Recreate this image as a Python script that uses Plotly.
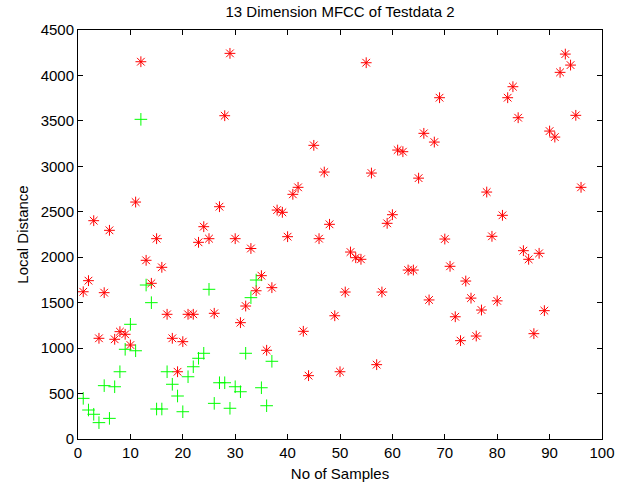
import plotly.graph_objects as go

# Red series: local distance per sample (asterisk markers)
red_x = list(range(1, 97))
red_y = [
    1620, 1742, 2402, 1108, 1610, 2296, 1097, 1181, 1152, 1034,
    2607, 4151, 1966, 1713, 2204, 1889, 1372, 1108, 740, 1071,
    1372, 1372, 2164, 2336, 2204, 1383, 2556, 3557, 4243, 2204,
    1280, 1463, 2096, 1631, 1797, 976, 1665, 2519, 2494, 2226,
    2692, 2769, 1185, 697, 3231, 2204, 2937, 2362, 1356, 740,
    1617, 2057, 1995, 1977, 4140, 2926, 818, 1617, 2373, 2468,
    3179, 3161, 1859, 1859, 2870, 3363, 1530, 3267, 3755, 2200,
    1900, 1345, 1082, 1738, 1550, 1133, 1419, 2717, 2230, 1520,
    2461, 3755, 3876, 3535, 2072, 1977, 1159, 2043, 1412, 3388,
    3322, 4034, 4235, 4114, 3561, 2769,
]

# Green series: local distance per sample (plus markers)
green_x = list(range(1, 38))
green_y = [
    447, 319, 272, 180, 587, 227, 575, 740, 987, 1262,
    971, 3517, 1694, 1500, 330, 330, 740, 602, 473, 300,
    685, 795, 888, 943, 1647, 392, 619, 619, 338, 575,
    520, 943, 1555, 1749, 564, 366, 855,
]

x_ticks = [0, 10, 20, 30, 40, 50, 60, 70, 80, 90, 100]
y_ticks = [0, 500, 1000, 1500, 2000, 2500, 3000, 3500, 4000, 4500]

font = "Liberation Sans, Arial, sans-serif"

fig = go.Figure()
fig.add_trace(go.Scatter(
    x=red_x, y=red_y, mode="markers",
    marker=dict(symbol="asterisk-open", size=9, color="#ff0000",
                line=dict(color="#ff0000", width=1)),
))
fig.add_trace(go.Scatter(
    x=green_x, y=green_y, mode="markers",
    marker=dict(symbol="cross-thin-open", size=9, color="#00ff00",
                line=dict(color="#00ff00", width=1)),
))

axis_style = dict(
    showline=True, linecolor="black", linewidth=1, mirror="ticks",
    ticks="inside", ticklen=5, tickwidth=1, tickcolor="black",
    showgrid=False, zeroline=False, automargin=False,
    tickfont=dict(family=font, size=15, color="black"),
)

fig.update_layout(
    width=629, height=486, autosize=False,
    margin=dict(l=78, r=27, t=30, b=47),
    paper_bgcolor="white", plot_bgcolor="white",
    showlegend=False,
    hovermode=False,
    title=dict(text="13 Dimension MFCC of Testdata 2", x=0.5, xref="paper",
               xanchor="center", y=1 - 12 / 486, yanchor="middle",
               yref="container",
               font=dict(family=font, size=15, color="black")),
    xaxis=dict(axis_style, range=[0, 100], tickvals=x_ticks,
               title=dict(text="No of Samples", standoff=8,
                          font=dict(family=font, size=15, color="black"))),
    yaxis=dict(axis_style, range=[0, 4500], tickvals=y_ticks,
               title=dict(text="Local Distance", standoff=8,
                          font=dict(family=font, size=15, color="black"))),
)

# drop the default 8px body margin so the figure sits at the window corner
fig.write_html("out.html", config={"displayModeBar": False},
               post_script="document.body.style.margin = '0';")
